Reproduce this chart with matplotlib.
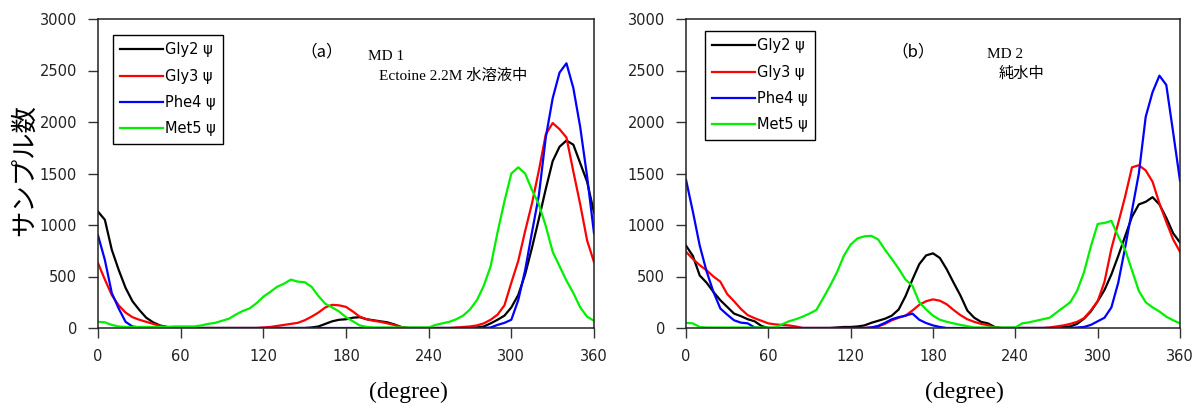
import matplotlib
matplotlib.use("Agg")
import matplotlib.pyplot as plt
from matplotlib.lines import Line2D

angles = list(range(0, 361, 5))

# Panel (a): MD 1, Ectoine 2.2M
gly2_a = [1130, 1050, 760, 565, 390, 260, 175, 100, 55, 25,
          10, 5, 0, 0, 0, 0, 0, 0, 0, 0,
          0, 0, 0, 0, 0, 0, 0, 0, 0, 0,
          0, 5, 15, 40, 65, 80, 85, 100, 105, 85,
          75, 65, 55, 35, 10, 0, 0, 0, 0, 0,
          0, 0, 0, 0, 0, 5, 15, 45, 80, 120,
          200, 320, 520, 780, 1060, 1350, 1620, 1760, 1820, 1780,
          1600, 1420, 1120]
gly3_a = [630, 470, 320, 220, 150, 105, 80, 60, 40, 20,
          10, 5, 0, 0, 0, 0, 0, 0, 0, 0,
          0, 0, 0, 0, 5, 10, 20, 30, 40, 50,
          75, 110, 150, 200, 225, 220, 205, 160, 110, 85,
          70, 60, 45, 30, 10, 0, 0, 0, 0, 0,
          0, 0, 5, 10, 15, 25, 45, 80, 130, 220,
          440, 650, 940, 1210, 1530, 1880, 1990, 1930, 1850, 1520,
          1200, 850, 640]
phe4_a = [900, 660, 340, 190, 60, 15, 5, 0, 0, 0,
          0, 0, 0, 0, 0, 0, 0, 0, 0, 0,
          0, 0, 0, 0, 0, 0, 0, 0, 0, 0,
          0, 0, 0, 0, 0, 0, 0, 0, 0, 0,
          0, 0, 0, 0, 0, 0, 0, 0, 0, 0,
          0, 0, 0, 0, 0, 0, 0, 5, 30, 50,
          80, 270, 560, 930, 1290, 1850, 2230, 2480, 2570, 2330,
          1950, 1470, 920]
met5_a = [60, 55, 30, 15, 10, 10, 10, 10, 10, 10,
          10, 15, 15, 15, 15, 25, 40, 50, 70, 90,
          130, 165, 190, 240, 304, 350, 400, 430, 470, 450,
          445, 400, 310, 235, 200, 160, 105, 65, 25, 10,
          5, 5, 5, 5, 5, 5, 5, 5, 5, 30,
          45, 60, 85, 120, 180, 270, 410, 600, 930, 1230,
          1500, 1560, 1500, 1340, 1200, 990, 740, 600, 460, 340,
          200, 110, 70]

# Panel (b): MD 2, pure water
gly2_b = [800, 700, 510, 440, 350, 270, 205, 140, 115, 85,
          65, 20, 0, 0, 0, 0, 0, 0, 0, 0,
          0, 0, 5, 10, 10, 15, 25, 50, 70, 90,
          120, 180, 310, 470, 620, 705, 725, 680, 570, 440,
          315, 170, 100, 60, 45, 10, 0, 0, 0, 0,
          0, 0, 0, 0, 5, 10, 15, 40, 90, 160,
          260, 370, 520, 700, 890, 1080, 1200, 1225, 1270, 1200,
          1070, 920, 830]
gly3_b = [740, 670, 610, 560, 500, 450, 330, 260, 185, 125,
          95, 70, 45, 35, 30, 25, 15, 0, 0, 0,
          0, 0, 0, 0, 0, 0, 0, 5, 15, 40,
          75, 100, 120, 170, 225, 260, 278, 265, 230, 175,
          125, 85, 60, 40, 28, 5, 0, 0, 0, 0,
          0, 0, 0, 5, 15, 25, 40, 60, 95, 170,
          260, 450, 770, 1020, 1275, 1560, 1580, 1530, 1420, 1210,
          1030, 860, 740]
phe4_b = [1440, 1130, 800, 550, 350, 190, 130, 75, 52, 45,
          5, 0, 0, 0, 0, 0, 0, 0, 0, 0,
          0, 0, 0, 0, 0, 0, 0, 5, 20, 50,
          85, 105, 120, 140, 80, 48, 25, 10, 0, 0,
          0, 0, 0, 0, 0, 0, 0, 0, 0, 0,
          0, 0, 0, 0, 0, 0, 0, 5, 10, 30,
          65, 100, 200, 440, 780, 1140, 1500, 2050, 2290, 2450,
          2360, 1900, 1430]
met5_b = [50, 45, 10, 5, 5, 5, 5, 5, 5, 5,
          5, 5, 5, 5, 35, 65, 85, 110, 140, 175,
          290, 410, 540, 700, 810, 870, 890, 895, 860, 760,
          670, 575, 470, 410, 250, 180, 120, 80, 60, 45,
          30, 18, 5, 5, 5, 5, 5, 5, 5, 45,
          55, 70, 85, 100, 150, 200, 250, 360, 540, 790,
          1010, 1020, 1040, 890, 760, 560, 360, 250, 200, 160,
          110, 75, 45]

series_names = ["Gly2 ψ", "Gly3 ψ", "Phe4 ψ", "Met5 ψ"]
colors = ["#000000", "#ff0000", "#0000ff", "#00f000"]
xticks = [0, 60, 120, 180, 240, 300, 360]
yticks = [0, 500, 1000, 1500, 2000, 2500, 3000]

fig = plt.figure(figsize=(11.93, 4.05), dpi=100)
axes_pos = [[98 / 1193, 1 - 328 / 405, 496 / 1193, 309 / 405],
            [686 / 1193, 1 - 328 / 405, 494 / 1193, 309 / 405]]
legend_anchor = [(113, 35), (705, 31)]
data = [[gly2_a, gly3_a, phe4_a, met5_a], [gly2_b, gly3_b, phe4_b, met5_b]]

for i, pos in enumerate(axes_pos):
    ax = fig.add_axes(pos)
    for vals, c in zip(data[i], colors):
        ax.plot(angles, vals, color=c, lw=1.6)
    ax.set_xlim(0, 360)
    ax.set_ylim(0, 3000)
    ax.set_xticks(xticks)
    ax.set_yticks(yticks)
    ax.tick_params(direction="out", length=7, width=1, pad=8, labelsize=10.5,
                   colors="#333333", labelcolor="#222222")
    for s in ax.spines.values():
        s.set_linewidth(1.1)
        s.set_color("#222222")
    handles = [Line2D([], [], color=c, lw=1.6) for c in colors]
    ax_x, ax_y = legend_anchor[i]
    leg = ax.legend(handles, series_names, loc="upper left",
                    bbox_to_anchor=(ax_x / 1193, 1 - ax_y / 405), bbox_transform=fig.transFigure,
                    frameon=True, fancybox=False, edgecolor="black", framealpha=1,
                    handlelength=2.9, handletextpad=0.15, labelspacing=0.78, borderpad=0.5,
                    borderaxespad=0, prop=dict(family="DejaVu Sans", size=10.5))
    leg.get_frame().set_linewidth(1.0)

cjk = ["Liberation Serif", "Noto Sans CJK JP"]
fig.text(24 / 1193, 1 - 170 / 405, "サンプル数", rotation=90, ha="center", va="center",
         family="Noto Sans CJK JP", fontsize=19)
fig.text(408 / 1193, 1 - 392 / 405, "(degree)", ha="center", va="center",
         family="Liberation Serif", fontsize=17)
fig.text(964 / 1193, 1 - 392 / 405, "(degree)", ha="center", va="center",
         family="Liberation Serif", fontsize=17)

fig.text(322 / 1193, 1 - 52 / 405, "（a）", ha="center", va="center", family="Noto Sans CJK JP", fontsize=12)
fig.text(368 / 1193, 1 - 57 / 405, "MD 1", ha="left", va="center", family="Liberation Serif", fontsize=11)
fig.text(379 / 1193, 1 - 76 / 405, "Ectoine 2.2M 水溶液中", ha="left", va="center", family=cjk, fontsize=11)

fig.text(913 / 1193, 1 - 52 / 405, "（b）", ha="center", va="center", family="Noto Sans CJK JP", fontsize=12)
fig.text(987 / 1193, 1 - 54 / 405, "MD 2", ha="left", va="center", family="Liberation Serif", fontsize=11)
fig.text(999 / 1193, 1 - 74 / 405, "純水中", ha="left", va="center", family=cjk, fontsize=11)

fig.savefig("out.png", dpi=100)
